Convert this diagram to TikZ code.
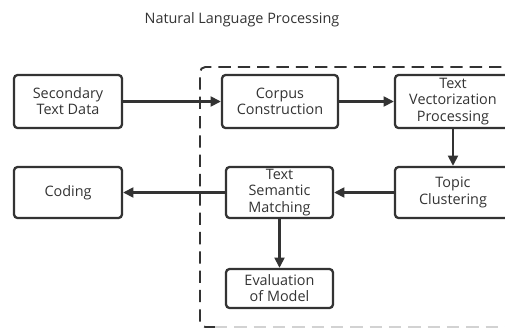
\documentclass[tikz,border=0pt]{standalone}
\usepackage{fontspec}
\setmainfont{Open Sans}
\usetikzlibrary{arrows.meta,positioning}
\definecolor{ink}{HTML}{333333}

\begin{document}
\begin{tikzpicture}[x=0.02cm,y=-0.02cm,
  box/.style={draw=ink,line width=1.3pt,rounded corners=2pt,align=center,text=ink,inner sep=0pt,
    font=\fontsize{8.2}{9.2}\selectfont},
  flow/.style={draw=ink,line width=1.3pt,-{Triangle[length=5.8pt,width=5.6pt]}}]
\useasboundingbox (0,0) rectangle (505,329);
\clip (0,0) rectangle (505,329);

\node[text=ink,font=\fontsize{8.2}{9.2}\selectfont] (title) at (242,20){Natural Language Processing};

%dashed frame
\draw[ink,line width=1.1pt,dash pattern=on 7pt off 4pt,rounded corners=3pt] (540,67)--(200,67)--(200,327)--(215,327);
\draw[gray!35,line width=0.8pt,dash pattern=on 7pt off 4pt] (215,327)--(540,327);

\node[box,minimum width=2.16cm,minimum height=1.06cm] (sec) at (68,101.5){Secondary\\Text Data};
\node[box,minimum width=2.32cm,minimum height=1.06cm] (corpus) at (280,101.5){Corpus\\Construction};
\node[box,minimum width=2.32cm,minimum height=1.06cm] (vec) at (453,101.5){Text\\Vectorization\\Processing};
\node[box,minimum width=2.16cm,minimum height=1.02cm] (coding) at (68,192.5){Coding};
\node[box,minimum width=2.14cm,minimum height=1.02cm] (match) at (279.5,192.5){Text\\Semantic\\Matching};
\node[box,minimum width=2.32cm,minimum height=1.02cm] (topic) at (453,192.5){Topic\\Clustering};
\node[box,minimum width=2.14cm,minimum height=0.78cm] (eval) at (279.5,288.5){Evaluation\\of Model};

\draw[flow] (sec)--(corpus);
\draw[flow] (corpus)--(vec);
\draw[flow] (vec)--(topic);
\draw[flow] (topic)--(match);
\draw[flow] (match)--(coding);
\draw[flow] (match)--(eval);
\end{tikzpicture}
\end{document}
